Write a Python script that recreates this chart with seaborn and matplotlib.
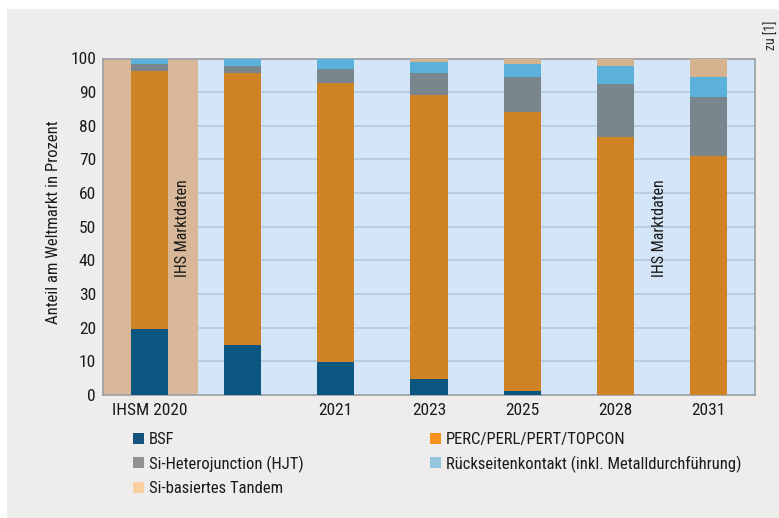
import matplotlib
matplotlib.use("Agg")
import matplotlib.pyplot as plt
import matplotlib.patches as mpatches
from matplotlib import font_manager as fm
import seaborn as sns
import numpy as np
import pandas as pd

categories = ["IHSM 2020", "2020", "2021", "2023", "2025", "2028", "2031"]
tick_labels = ["IHSM 2020", "", "2021", "2023", "2025", "2028", "2031"]
bsf = [19.5, 15.0, 9.7, 4.8, 1.2, 0.0, 0.0]
perc = [76.8, 80.7, 82.9, 84.4, 82.8, 76.8, 71.1]
hjt = [2.1, 2.1, 4.3, 6.5, 10.6, 15.5, 17.5]
rueck = [1.6, 2.2, 3.1, 3.4, 3.9, 5.5, 5.8]
tandem = [0.0, 0.0, 0.0, 0.9, 1.5, 2.2, 5.6]

series_names = ["BSF", "PERC/PERL/PERT/TOPCON", "Si-Heterojunction (HJT)",
                "Rückseitenkontakt (inkl. Metalldurchführung)", "Si-basiertes Tandem"]
bar_colors = ["#0b5680", "#d08325", "#7a868e", "#5bb1da", "#d6b38f"]
legend_colors = ["#15547d", "#f5921e", "#909294", "#93c5df", "#fad0a3"]

# pick a condensed family if one is installed
names = {f.name for f in fm.fontManager.ttflist}
stretches = {(f.name, f.stretch) for f in fm.fontManager.ttflist}
FONT = ["DejaVu Sans"]
STRETCH = "normal"
for cand in ["Liberation Sans Narrow", "Roboto Condensed", "Open Sans Condensed",
             "Noto Sans Condensed", "DejaVu Sans Condensed"]:
    if cand in names:
        FONT = [cand, "DejaVu Sans"]
        break
else:
    for (n, s) in stretches:
        if s in ("condensed", "semi-condensed", 75, 87, 62) and n in ("DejaVu Sans", "Noto Sans", "Open Sans", "Roboto"):
            FONT = [n, "DejaVu Sans"]
            STRETCH = s
            break

sns.set_theme(style="white")
plt.rcParams["font.family"] = FONT
plt.rcParams["font.stretch"] = STRETCH

fig = plt.figure(figsize=(7.79, 5.18), dpi=100)
fig.patch.set_facecolor("white")
bg = mpatches.Rectangle((7 / 779, 0), 1, 1 - 9 / 518, transform=fig.transFigure,
                        facecolor="#eeedeb", edgecolor="none", zorder=-10)
fig.patches.append(bg)

ax = fig.add_axes([103 / 779, (518 - 395) / 518, (755 - 103) / 779, (395 - 58.5) / 518])
ax.set_zorder(1)
ax.set_facecolor("#d3e5f6")

df = pd.DataFrame({"cat": categories, "bsf": bsf, "perc": perc, "hjt": hjt,
                   "rueck": rueck, "tandem": tandem})
stack = np.cumsum(np.array([bsf, perc, hjt, rueck, tandem]), axis=0)

# draw from the top of the stack downwards so each lower segment overlays
for i in range(4, -1, -1):
    df["top"] = stack[i]
    sns.barplot(data=df, x="cat", y="top", order=categories, color=bar_colors[i],
                width=0.4, saturation=1, ax=ax, zorder=3, edgecolor="none")

ax.axvspan(-0.5, 0.52, color="#d8b898", zorder=1, lw=0)
ax.set_xlim(-0.5, 6.5)
ax.set_ylim(0, 100)
ax.set_yticks(range(0, 101, 10))
ax.yaxis.grid(True, color="#8ea6bf", alpha=0.45, lw=1.2)
for gl in ax.get_ygridlines():
    gl.set_zorder(2)
ax.set_xticks(range(len(categories)))
ax.set_xticklabels(tick_labels)
ax.tick_params(axis="both", length=0, labelsize=12.5, colors="#1a1a1a")
ax.tick_params(axis="y", pad=5)
ax.tick_params(axis="x", pad=6)
ax.set_xlabel("")
ax.set_ylabel("Anteil am Weltmarkt in Prozent", fontsize=12, color="#1a1a1a")
ax.yaxis.set_label_coords(-0.065, 0.515)
for s in ax.spines.values():
    s.set_color("#9a9fa6")
    s.set_linewidth(1.2)

ax.text(0.355, 35, "IHS Marktdaten", rotation=90, ha="center", va="bottom",
        fontsize=11.5, color="#1a1a1a", zorder=5)
ax.text(5.48, 35, "IHS Marktdaten", rotation=90, ha="center", va="bottom",
        fontsize=11.5, color="#1a1a1a", zorder=5)

fig.text(772 / 779, 1 - 20 / 518, "zu [1]", rotation=90, ha="center", va="top",
         fontsize=10, color="#333333")

handles = [mpatches.Patch(facecolor=c, edgecolor="none", label=n)
           for c, n in zip(legend_colors, series_names)]
common = dict(frameon=False, fontsize=12, handlelength=0.65, handleheight=0.65,
              handletextpad=0.3, labelspacing=0.5, borderpad=0, borderaxespad=0,
              labelcolor="#1a1a1a")
fig.legend(handles=[handles[0], handles[2], handles[4]], loc="upper left",
           bbox_to_anchor=(133 / 779, 1 - 432 / 518), **common)
fig.legend(handles=[handles[1], handles[3]], loc="upper left",
           bbox_to_anchor=(430 / 779, 1 - 432 / 518), **common)

fig.savefig("out.png", dpi=100, facecolor=fig.get_facecolor())
